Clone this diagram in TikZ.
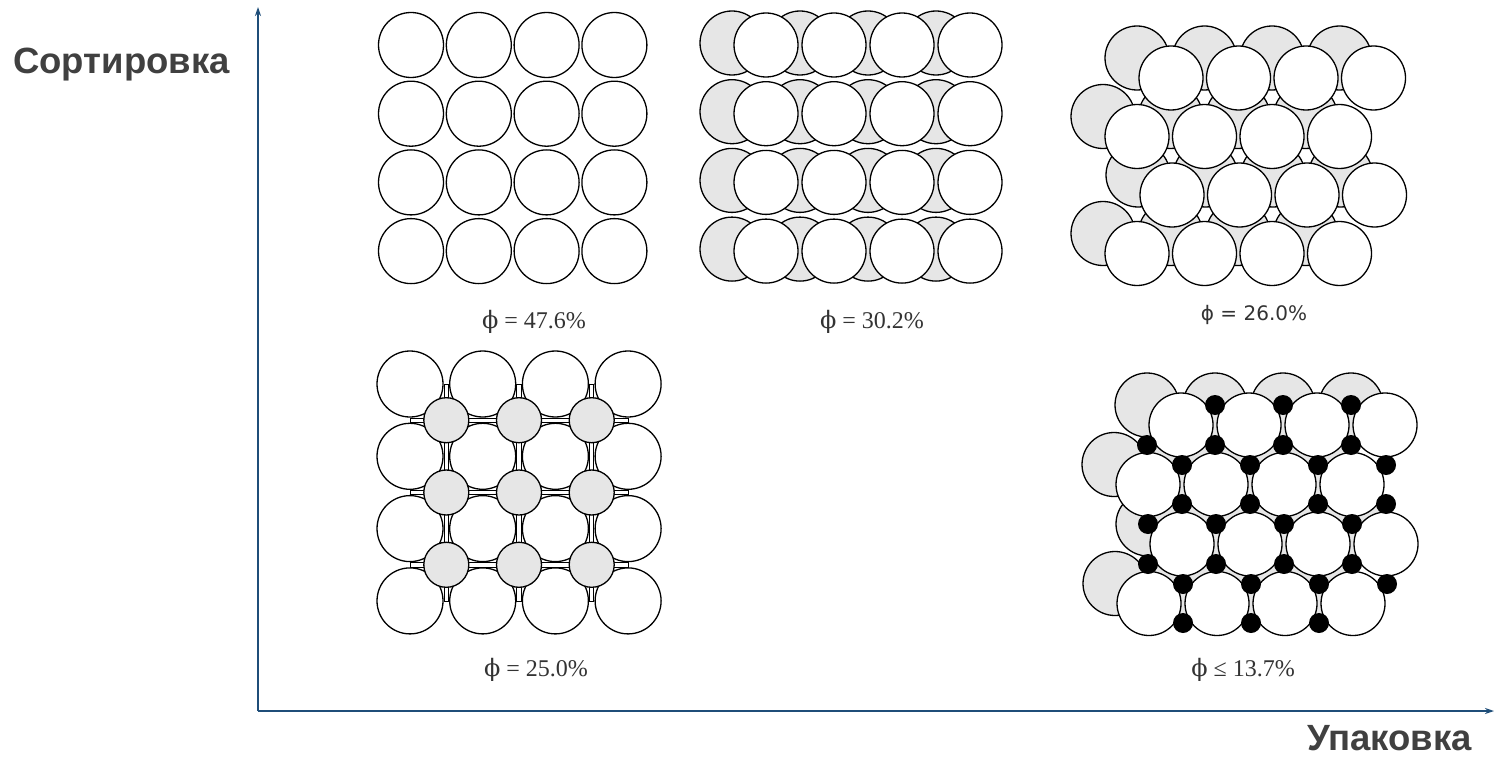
\documentclass[tikz,border=0pt]{standalone}
\usepackage{fontspec}
\setmainfont{Liberation Serif}
\newfontfamily\axfont{Liberation Sans}
\newfontfamily\phifont{DejaVu Serif}
\newfontfamily\dvsans{DejaVu Sans}
\usetikzlibrary{arrows.meta}
\definecolor{axisblue}{RGB}{31,78,121}
\definecolor{lightgr}{RGB}{230,230,230}
\definecolor{labgray}{RGB}{64,64,64}
\tikzset{
  wc/.style={draw=black, fill=white, line width=1.3pt},
  gc/.style={draw=black, fill=lightgr, line width=1.3pt},
  bdot/.style={fill=black},
  bridge/.style={draw=black, fill=white, line width=1pt},
  axisline/.style={draw=axisblue, line width=1.6pt, -{Stealth[length=9pt,width=6pt]}},
  axlabel/.style={font=\axfont\bfseries\fontsize{36.5}{40}\selectfont, text=labgray, inner sep=0pt},
  philab/.style={font=\fontsize{24}{28}\selectfont, text=black!80, inner sep=0pt},
  philabsans/.style={font=\dvsans\fontsize{20}{24}\selectfont, text=black!80, inner sep=0pt},
}
\newcommand{\ph}{{\phifont ϕ}}
\begin{document}
\begin{tikzpicture}[x=1pt,y=-1pt]
\useasboundingbox (0,0) rectangle (1495,757);

% ---------- Panel 1: square packing ----------
\foreach \i in {0,...,3}
  \foreach \j in {0,...,3}
    \draw[wc] ({411+67.8*\i},{45+68.7*\j}) circle[radius=32.5];

% ---------- Panel 2: shifted double layer ----------
\foreach \i in {0,...,3}
  \foreach \j in {0,...,3}
    \draw[gc] ({732+68*\i},{43+68.7*\j}) circle[radius=32];
\foreach \i in {0,...,3}
  \foreach \j in {0,...,3}
    \draw[wc] ({766+68*\i},{45+68.7*\j}) circle[radius=32];

% ---------- Panel 3: hexagonal double layer ----------
\foreach \j/\xo in {0/1171,1/1137,2/1172,3/1137}
  \foreach \i in {0,...,3}
    \draw[gc] ({\xo+67.5*\i-34},{78+58.5*\j-20}) circle[radius=32];
\foreach \j/\xo in {0/1171,1/1137,2/1172,3/1137}
  \foreach \i in {0,...,3}
    \draw[wc] ({\xo+67.5*\i},{78+58.5*\j}) circle[radius=32];

% ---------- Panel 4: square packing with interstitial grains ----------
\foreach \i in {0,...,3}
  \foreach \j in {0,...,3}
    \draw[wc] ({410+72.7*\i},{384+72.3*\j}) circle[radius=33];
\foreach \j in {0,1,2}
  \draw[bridge] (410,{420.2+72.3*\j-2.2}) rectangle (628,{420.2+72.3*\j+2.2});
\foreach \i in {0,1,2}
  \draw[bridge] ({446.3+72.7*\i-2.2},384) rectangle ({446.3+72.7*\i+2.2},601);
\foreach \i in {0,1,2}
  \foreach \j in {0,1,2}
    \draw[gc] ({446.3+72.7*\i},{420.2+72.3*\j}) circle[radius=22.5];

% ---------- Panel 5: hexagonal double layer with fines ----------
\foreach \j/\xo in {0/1181,1/1148,2/1182,3/1149}
  \foreach \i in {0,...,3}
    \draw[gc] ({\xo+68*\i-34},{425+59.5*\j-20}) circle[radius=32];
\foreach \j/\xo in {0/1181,1/1148,2/1182,3/1149}
  \foreach \i in {0,...,3}
    \draw[wc] ({\xo+68*\i},{425+59.5*\j}) circle[radius=32];
\foreach \i in {0,1,2} \fill[bdot] ({1215+68*\i},405) circle[radius=10];
\foreach \i in {0,...,3} \fill[bdot] ({1147+68*\i},445) circle[radius=10];
\foreach \i in {0,...,3} \fill[bdot] ({1182+68*\i},465) circle[radius=10];
\foreach \i in {0,...,3} \fill[bdot] ({1182+68*\i},504) circle[radius=10];
\foreach \i in {0,...,3} \fill[bdot] ({1148+68*\i},524) circle[radius=10];
\foreach \i in {0,...,3} \fill[bdot] ({1148+68*\i},564) circle[radius=10];
\foreach \i in {0,...,3} \fill[bdot] ({1183+68*\i},584) circle[radius=10];
\foreach \i in {0,1,2} \fill[bdot] ({1183+68*\i},623) circle[radius=10];

% ---------- Labels ----------
\node[philab, anchor=base] (l1) at (534,328) {\ph{} = 47.6\%};
\node[philab, anchor=base] (l2) at (872,328) {\ph{} = 30.2\%};
\node[philabsans, anchor=base] (l3) at (1254,320) {ϕ = 26.0\%};
\node[philab, anchor=base] (l4) at (536,676) {\ph{} = 25.0\%};
\node[philab, anchor=base] (l5) at (1243,676) {\ph{} ≤ 13.7\%};

% ---------- Axes ----------
\coordinate (O) at (258,711);
\coordinate (ytop) at (258,7);
\coordinate (xend) at (1494,711);
\draw[axisline] (O) -- (ytop);
\draw[axisline] (O) -- (xend);
\node[axlabel, anchor=base west] (ylab) at (13,74) {Сортировка};
\node[axlabel, anchor=base east] (xlab) at (1472,750) {Упаковка};
\end{tikzpicture}
\end{document}
